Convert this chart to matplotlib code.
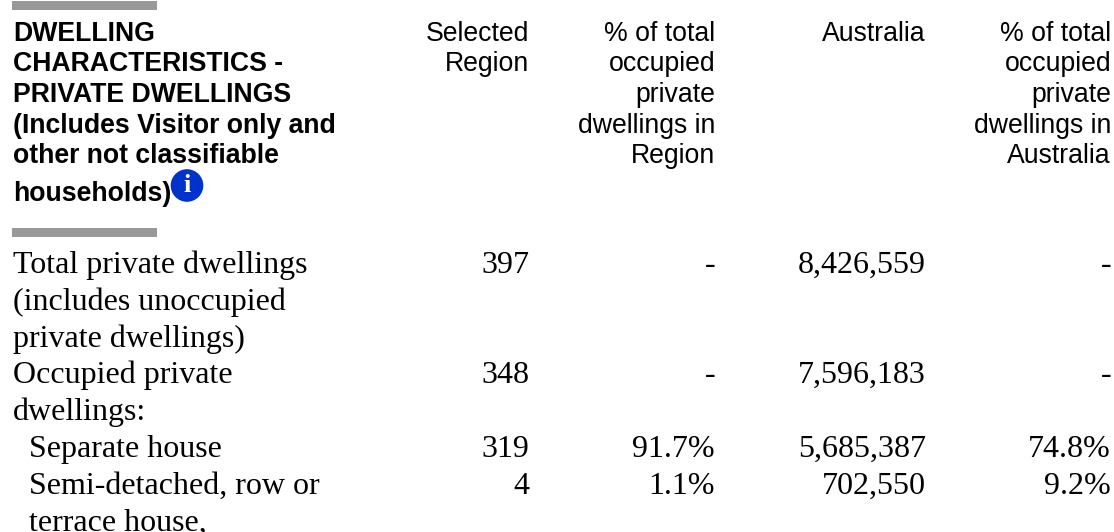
import matplotlib
matplotlib.use("Agg")
import matplotlib.pyplot as plt
from matplotlib.patches import Circle, Rectangle

header_title = ["DWELLING", "CHARACTERISTICS -", "PRIVATE DWELLINGS",
                "(Includes Visitor only and", "other not classifiable", "households)"]
header_region = ["Selected", "Region"]
header_pct_region = ["% of total", "occupied", "private", "dwellings in", "Region"]
header_australia = ["Australia"]
header_pct_aus = ["% of total", "occupied", "private", "dwellings in", "Australia"]

row_labels = [
    ["Total private dwellings", "(includes unoccupied", "private dwellings)"],
    ["Occupied private", "dwellings:"],
    ["Separate house"],
    ["Semi-detached, row or", "terrace house,"],
]
row_indent = [False, False, True, True]
selected_region = ["397", "348", "319", "4"]
pct_region = ["-", "-", "91.7%", "1.1%"]
australia = ["8,426,559", "7,596,183", "5,685,387", "702,550"]
pct_australia = ["-", "-", "74.8%", "9.2%"]

# pixel layout of the page
W, H = 1114, 532
col_right = [529, 715, 926, 1111]
head_base = [41, 71, 102, 133, 163, 201]
body_base = [273, 310, 347, 383, 420, 457, 494, 531]
HEAD_PT = 19.2
BODY_PT = 23.04

fig = plt.figure(figsize=(W / 100, H / 100), dpi=100)
ax = fig.add_axes([0, 0, 1, 1])
ax.set_xlim(0, W)
ax.set_ylim(H, 0)
ax.axis("off")

# grey rules above and below the header
for top in (1, 228):
    ax.add_patch(Rectangle((12, top), 145, 9, color="#999999", lw=0))

for line, y in zip(header_title, head_base):
    ax.text(13, y, line, family="Liberation Sans", weight="bold", fontsize=HEAD_PT,
            va="baseline", ha="left", color="black")

# info icon
ax.add_patch(Circle((187, 185.5), 16.3, color="#0033cc", lw=0))
ax.text(187, 185.5, "i", family="Liberation Serif", weight="bold", fontsize=19,
        va="center", ha="center", color="white")

head_cols = [header_region, header_pct_region, header_australia, header_pct_aus]
for x, lines in zip(col_right, head_cols):
    for line, y in zip(lines, head_base):
        ax.text(x, y, line, family="Liberation Sans", fontsize=HEAD_PT,
                va="baseline", ha="right", color="black")

line_no = 0
for i, lines in enumerate(row_labels):
    left = 29 if row_indent[i] else 13
    y0 = body_base[line_no]
    for line in lines:
        ax.text(left, body_base[line_no], line, family="Liberation Serif", fontsize=BODY_PT,
                va="baseline", ha="left", color="black")
        line_no += 1
    cells = [selected_region[i], pct_region[i], australia[i], pct_australia[i]]
    for x, c in zip(col_right, cells):
        ax.text(x, y0, c, family="Liberation Serif", fontsize=BODY_PT,
                va="baseline", ha="right", color="black")

fig.savefig("out.png", dpi=100)
